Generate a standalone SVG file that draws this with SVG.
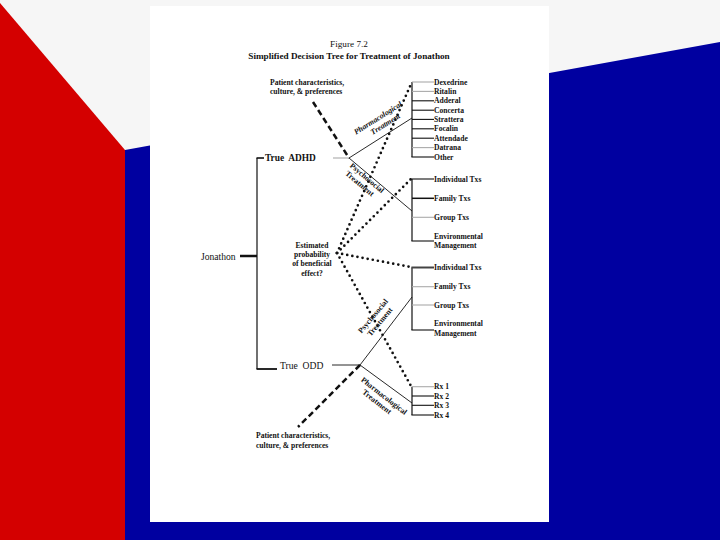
<svg xmlns="http://www.w3.org/2000/svg" width="720" height="540" viewBox="0 0 720 540">
<style>
.t{font-family:"Liberation Serif","Times New Roman",serif;fill:#111}
.s{font-size:7.6px;font-weight:bold}
.lb{font-size:7.8px;font-weight:bold}
.thin{stroke:#111;stroke-width:0.9;fill:none}
.br{stroke:#111;stroke-width:1.2;fill:none}
.tk{stroke:#111;stroke-width:1.1}
.gk{stroke:#aaa;stroke-width:1.1}
.dot{stroke:#111;stroke-width:2.7;stroke-linecap:round;stroke-dasharray:0 5.2;fill:none}
.dash{stroke:#111;stroke-width:2.5;stroke-dasharray:6 3.5;fill:none}
</style>
<rect x="0" y="0" width="720" height="540" fill="#f6f6f6"/>
<polygon points="0,3 125,150 125,540 0,540" fill="#d40000"/>
<polygon points="125,150 720,42 720,540 125,540" fill="#0000a0"/>
<rect x="150" y="6" width="399" height="516" fill="#ffffff"/>

<g id="title">
<text class="t" x="349" y="46.5" font-size="9.2" text-anchor="middle">Figure 7.2</text>
<text class="t" x="349" y="58.5" font-size="9.2" font-weight="bold" text-anchor="middle">Simplified Decision Tree for Treatment of Jonathon</text>
</g>

<g id="connectors">
<line x1="240" y1="256" x2="257" y2="256" stroke="#111" stroke-width="2.5"/>
<line x1="257" y1="158" x2="257" y2="369" class="br"/>
<line x1="256.5" y1="158" x2="264" y2="158" stroke="#111" stroke-width="1.6"/>
<line x1="256.5" y1="369" x2="277" y2="369" stroke="#111" stroke-width="1.8"/>
<line x1="333" y1="158" x2="349" y2="158" class="gk"/>
<line x1="332" y1="365" x2="360" y2="365" class="thin"/>
<line x1="349" y1="158" x2="412" y2="118" class="thin"/>
<line x1="349" y1="158" x2="412" y2="211" class="thin"/>
<line x1="360" y1="365" x2="412" y2="297" class="thin"/>
<line x1="360" y1="365" x2="412" y2="403" class="thin"/>
<line x1="313" y1="102" x2="349" y2="158" class="dash"/>
<line x1="360" y1="365" x2="298" y2="427" class="dash"/>
<line x1="337" y1="253" x2="411" y2="84" class="dot"/>
<line x1="337" y1="253" x2="411" y2="179" class="dot"/>
<line x1="337" y1="253" x2="411" y2="267" class="dot"/>
<line x1="337" y1="253" x2="411" y2="386" class="dot"/>
<line x1="412" y1="82" x2="412" y2="157" class="br"/>
<line x1="412" y1="82" x2="434" y2="82" class="gk"/>
<line x1="412" y1="91.4" x2="434" y2="91.4" class="gk"/>
<line x1="412" y1="100.8" x2="434" y2="100.8" class="tk"/>
<line x1="412" y1="110.2" x2="434" y2="110.2" class="tk"/>
<line x1="412" y1="119.4" x2="434" y2="119.4" class="tk"/>
<line x1="412" y1="128.8" x2="434" y2="128.8" class="tk"/>
<line x1="412" y1="138.2" x2="434" y2="138.2" class="tk"/>
<line x1="412" y1="147.6" x2="434" y2="147.6" class="gk"/>
<line x1="411.4" y1="157" x2="434" y2="157" class="tk"/>
<line x1="412" y1="179" x2="412" y2="241" class="br"/>
<line x1="411.4" y1="179" x2="434" y2="179" class="tk"/>
<line x1="412" y1="198.3" x2="434" y2="198.3" stroke="#111" stroke-width="1.5"/>
<line x1="412" y1="217.3" x2="434" y2="217.3" class="gk"/>
<line x1="411.4" y1="241" x2="434" y2="241" class="tk"/>
<line x1="412" y1="267.5" x2="412" y2="330" class="br"/>
<line x1="411.4" y1="267.5" x2="434" y2="267.5" stroke="#444" stroke-width="2"/>
<line x1="412" y1="286.7" x2="434" y2="286.7" class="gk"/>
<line x1="412" y1="305" x2="434" y2="305" class="gk"/>
<line x1="411.4" y1="330" x2="434" y2="330" class="tk"/>
<line x1="412" y1="386.7" x2="412" y2="415" class="br"/>
<line x1="412" y1="386.7" x2="434" y2="386.7" class="gk"/>
<line x1="412" y1="396" x2="434" y2="396" class="tk"/>
<line x1="412" y1="405.3" x2="434" y2="405.3" class="tk"/>
<line x1="411.4" y1="415" x2="434" y2="415" class="tk"/>
</g>

<g id="root"><text class="t" x="201" y="259.5" font-size="9.6">Jonathon</text></g>
<g id="adhd"><text class="t" x="265" y="161" font-size="9.4" font-weight="bold" xml:space="preserve">True  ADHD</text></g>
<g id="odd"><text class="t" x="280" y="368.5" font-size="9.6" xml:space="preserve">True  ODD</text></g>

<g id="patient-top">
<text class="t s" x="270" y="84.5">Patient characteristics,</text>
<text class="t s" x="270" y="94">culture, &amp; preferences</text>
</g>
<g id="patient-bottom">
<text class="t s" x="256" y="438">Patient characteristics,</text>
<text class="t s" x="256" y="447.5">culture, &amp; preferences</text>
</g>
<g id="estimate">
<text class="t s" x="312" y="248" text-anchor="middle">Estimated</text>
<text class="t s" x="312" y="257" text-anchor="middle">probability</text>
<text class="t s" x="312" y="266.3" text-anchor="middle">of beneficial</text>
<text class="t s" x="312" y="275.7" text-anchor="middle">effect?</text>
</g>

<g id="label-adhd-pharm" transform="translate(378,118) rotate(-32)">
<text class="t lb" font-style="italic" x="0" y="2.5" text-anchor="middle">Pharmacological</text>
<text class="t lb" font-style="italic" x="3" y="11.5" text-anchor="middle">Treatment</text>
</g>
<g id="label-adhd-psych" transform="translate(367,178) rotate(40)">
<text class="t lb" x="0" y="2.5" text-anchor="middle">Psychosocial</text>
<text class="t lb" x="-2" y="11.5" text-anchor="middle">Treatment</text>
</g>
<g id="label-odd-psych" transform="translate(373,316) rotate(-50)">
<text class="t lb" x="0" y="2.5" text-anchor="middle">Psychosocial</text>
<text class="t lb" x="0" y="11.5" text-anchor="middle">Treatment</text>
</g>
<g id="label-odd-pharm" transform="translate(384,396) rotate(38)">
<text class="t lb" x="0" y="2.5" text-anchor="middle">Pharmacological</text>
<text class="t lb" x="-2" y="11.5" text-anchor="middle">Treatment</text>
</g>

<g id="pharm-options">
<text class="t s" x="434" y="84.6">Dexedrine</text>
<text class="t s" x="434" y="94">Ritalin</text>
<text class="t s" x="434" y="103.4">Adderal</text>
<text class="t s" x="434" y="112.8">Concerta</text>
<text class="t s" x="434" y="122">Strattera</text>
<text class="t s" x="434" y="131.4">Focalin</text>
<text class="t s" x="434" y="140.8">Attendade</text>
<text class="t s" x="434" y="150.2">Datrana</text>
<text class="t s" x="434" y="159.6">Other</text>
</g>
<g id="psych-adhd-options">
<text class="t s" x="434" y="181.6">Individual Txs</text>
<text class="t s" x="434" y="200.9">Family Txs</text>
<text class="t s" x="434" y="219.9">Group Txs</text>
<text class="t s" x="434" y="238.6">Environmental</text>
<text class="t s" x="434" y="247.8">Management</text>
</g>
<g id="psych-odd-options">
<text class="t s" x="434" y="270.1">Individual Txs</text>
<text class="t s" x="434" y="289.3">Family Txs</text>
<text class="t s" x="434" y="307.6">Group Txs</text>
<text class="t s" x="434" y="325.9">Environmental</text>
<text class="t s" x="434" y="335.6">Management</text>
</g>
<g id="rx-options">
<text class="t s" x="434" y="389.3">Rx 1</text>
<text class="t s" x="434" y="398.6">Rx 2</text>
<text class="t s" x="434" y="407.9">Rx 3</text>
<text class="t s" x="434" y="417.6">Rx 4</text>
</g>
</svg>
